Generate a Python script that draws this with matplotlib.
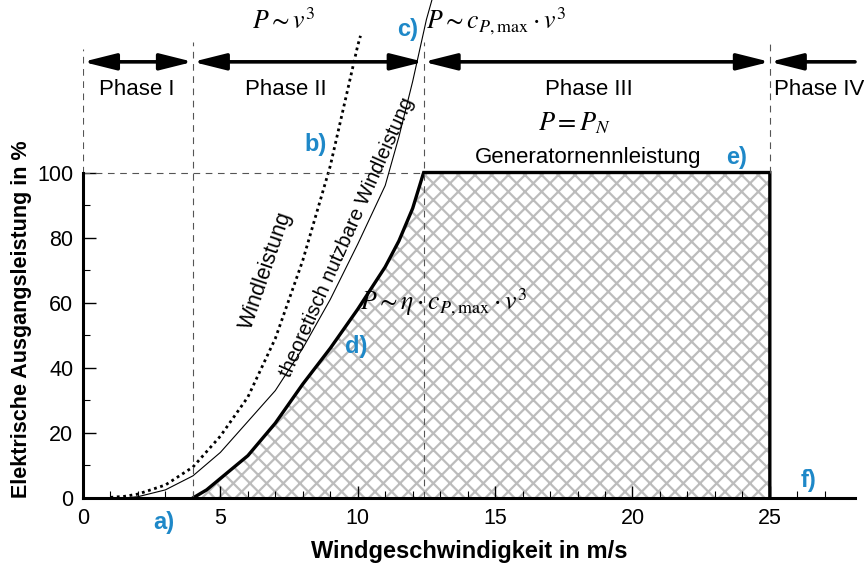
import matplotlib
matplotlib.use("Agg")
import matplotlib.pyplot as plt

# wind power (dotted), P ~ v^3
v_wind = [1, 1.5, 2, 3, 4, 5, 6, 7, 8, 9, 10, 10.1]
p_wind = [0.2, 0.5, 1.2, 4, 9.5, 19, 31, 49, 73, 102, 139, 142]

# theoretically usable wind power (thin), P ~ cp_max * v^3
v_theo = [1.5, 2, 3, 4, 5, 6, 7, 8, 9, 10, 11, 11.5, 12, 12.5, 12.7]
p_theo = [0, 0.4, 2.5, 6.8, 14, 23.5, 33, 46, 61, 78, 96, 111, 128, 147, 153]

# electrical output (thick)
v_el = [4, 4.5, 5, 6, 7, 8, 9, 10, 11, 11.5, 12, 12.4, 25, 25]
p_el = [0, 2.5, 6, 13, 23, 35, 46, 58, 71, 79, 89, 100, 100, 0]

# phase limits and labels
v_in, v_rated, v_out, v_end = 4, 12.4, 25, 28.1
phase_bounds = [0, v_in, v_rated, v_out]
phase_names = ["Phase I", "Phase II", "Phase III", "Phase IV"]
phase_x = [1.95, 7.4, 18.4, 26.8]

blue = "#1e88c8"
plt.rcParams["font.family"] = ["Liberation Sans", "DejaVu Sans"]
plt.rcParams["mathtext.fontset"] = "stix"
plt.rcParams["hatch.linewidth"] = 1.6

fig = plt.figure(figsize=(8.64, 5.63), dpi=100)
ax = fig.add_axes([83 / 864, 65 / 563, (855 - 83) / 864, 1 - 65 / 563])
ax.set_xlim(0, v_end)
ax.set_ylim(0, 153)

ax.fill_between(v_el, p_el, 0, facecolor="none", edgecolor="#bcbcbc", hatch="xx", linewidth=0)
ax.plot(v_wind, p_wind, color="black", linestyle=(0, (1, 1.3)), linewidth=2)
ax.plot(v_theo, p_theo, color="black", linewidth=0.8)
ax.plot(v_el, p_el, color="black", linewidth=2.4, solid_joinstyle="miter")

# dashed guides
dash = dict(color="#555555", linestyle=(0, (6, 5)), linewidth=0.8)
ax.plot([0, v_rated], [100, 100], **dash)
ax.plot([0, 0], [100, 138], **dash)
ax.plot([v_in, v_in], [0, 140], **dash)
ax.plot([v_rated, v_rated], [0, 140], **dash)
ax.plot([v_out, v_out], [100, 140], **dash)

# phase arrows
head = "head_length=1.0,head_width=0.25"
arr = dict(arrowstyle="<|-|>," + head, color="black",
           lw=2.6, shrinkA=0, shrinkB=0, mutation_scale=20)
y_arr = 134
for a, b in zip(phase_bounds[:-1], phase_bounds[1:]):
    ax.annotate("", xy=(a, y_arr), xytext=(b, y_arr), arrowprops=arr)
arr4 = dict(arr, arrowstyle="-|>," + head)
ax.annotate("", xy=(v_out, y_arr), xytext=(v_end, y_arr), arrowprops=arr4)

for name, x in zip(phase_names, phase_x):
    ax.text(x, 125.5, name, ha="center", va="center", fontsize=16, clip_on=False)

# formulas
ax.text(7.3, 146.5, r"$P \sim v^3$", ha="center", va="center", fontsize=18.5)
ax.text(12.5, 146.5, r"$P \sim c_{P,\mathrm{max}} \cdot v^3$", ha="left", va="center", fontsize=18.5)
ax.text(17.9, 115, r"$P = P_N$", ha="center", va="center", fontsize=19)
ax.text(10.1, 60, r"$P \sim \eta \cdot c_{P,\mathrm{max}} \cdot v^3$", ha="left", va="center", fontsize=18.5)
ax.text(18.4, 104.5, "Generatornennleistung", ha="center", va="center", fontsize=16)

ax.text(6.65, 70, "Windleistung", rotation=71, ha="center", va="center", fontsize=15.5)
ax.text(9.6, 80, "theoretisch nutzbare Windleistung", rotation=66, ha="center", va="center", fontsize=14.5)

# letter marks
marks = [("a)", 2.95, -7.5), ("b)", 8.45, 108.5), ("c)", 11.8, 144), ("d)", 9.95, 46.5),
         ("e)", 23.8, 104.5), ("f)", 26.4, 5.5)]
for lab, x, y in marks:
    ax.text(x, y, lab, color=blue, fontsize=17, fontweight="bold", ha="center", va="center", clip_on=False)

# axes styling
for s in ["top", "right"]:
    ax.spines[s].set_visible(False)
ax.spines["left"].set_bounds(0, 100)
ax.spines["left"].set_linewidth(2.2)
ax.spines["bottom"].set_linewidth(2.2)
ax.set_xticks([0, 5, 10, 15, 20, 25])
ax.set_xticks(range(0, 28), minor=True)
ax.set_yticks([0, 20, 40, 60, 80, 100])
ax.set_yticks(range(0, 101, 10), minor=True)
ax.tick_params(which="major", direction="in", length=9, width=1, labelsize=15.5, pad=7)
ax.tick_params(which="minor", direction="in", length=5, width=0.8)
ax.set_xlabel("Windgeschwindigkeit in m/s", fontsize=17, fontweight="bold", labelpad=2)
ax.set_ylabel("Elektrische Ausgangsleistung in %", fontsize=15.5, fontweight="bold")
ax.yaxis.set_label_coords(-0.066, 0.36)
ax.xaxis.set_label_coords(0.5, -0.085)

fig.savefig("out.png", dpi=100)
